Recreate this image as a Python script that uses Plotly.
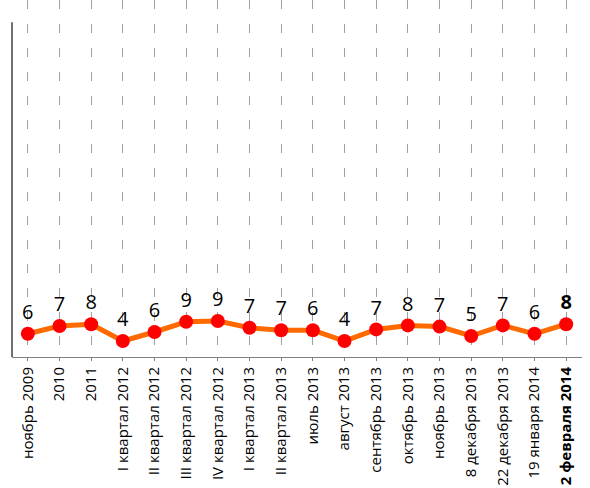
import plotly.graph_objects as go

categories = ["ноябрь 2009", "2010", "2011", "I квартал 2012", "II квартал 2012",
              "III квартал 2012", "IV квартал 2012", "I квартал 2013", "II квартал 2013",
              "июль 2013", "август 2013", "сентябрь 2013", "октябрь 2013", "ноябрь 2013",
              "8 декабря 2013", "22 декабря 2013", "19 января 2014", "2 февраля 2014"]
values = [5.8, 7.75, 8.2, 4.0, 6.25, 8.8, 9.0, 7.3, 6.7, 6.7, 4.0, 6.9, 7.9, 7.6, 5.25, 7.9, 5.8, 8.2]
labels = ["6", "7", "8", "4", "6", "9", "9", "7", "7", "6", "4", "7", "8", "7", "5", "7", "6", "8"]

x = list(range(len(categories)))
ticktext = categories[:-1] + ["<b>" + categories[-1] + "</b>"]
text = labels[:-1] + ["<b>" + labels[-1] + "</b>"]

fig = go.Figure()
fig.add_trace(go.Scatter(
    x=x, y=values, mode="lines+markers+text",
    line=dict(color="#FF6A00", width=5),
    marker=dict(color="#FF0000", size=14),
    text=text, textposition="top center",
    textfont=dict(family="Open Sans", size=20, color="#000000"),
    cliponaxis=False, showlegend=False,
))

fig.update_layout(
    width=590, height=488,
    margin=dict(l=12, r=8, t=0, b=131),
    paper_bgcolor="white", plot_bgcolor="white",
    font=dict(family="Open Sans", size=15, color="#000000"),
    xaxis=dict(
        range=[-0.5, len(categories) - 0.5],
        tickmode="array", tickvals=x, ticktext=ticktext,
        tickangle=-90, tickson="boundaries",
        ticks="outside", ticklen=3, tickcolor="#808080",
        tickfont=dict(family="Open Sans", size=15, color="#000000"),
        showgrid=True, gridcolor="#A0A0A0", gridwidth=1, griddash="9px,15px",
        showline=True, linecolor="#808080", linewidth=1,
        zeroline=False, fixedrange=True, automargin=False,
    ),
    yaxis=dict(
        range=[0, 89.25], showticklabels=False, ticks="",
        showgrid=False, zeroline=False, showline=False, fixedrange=True,
    ),
    shapes=[dict(type="line", xref="paper", yref="paper", x0=0, x1=0, y0=0, y1=0.938,
                 line=dict(color="#404040", width=1.5))],
)

fig.write_html("out.html", config={"displayModeBar": False},
               post_script="document.body.style.margin='0';document.body.style.padding='0';")
